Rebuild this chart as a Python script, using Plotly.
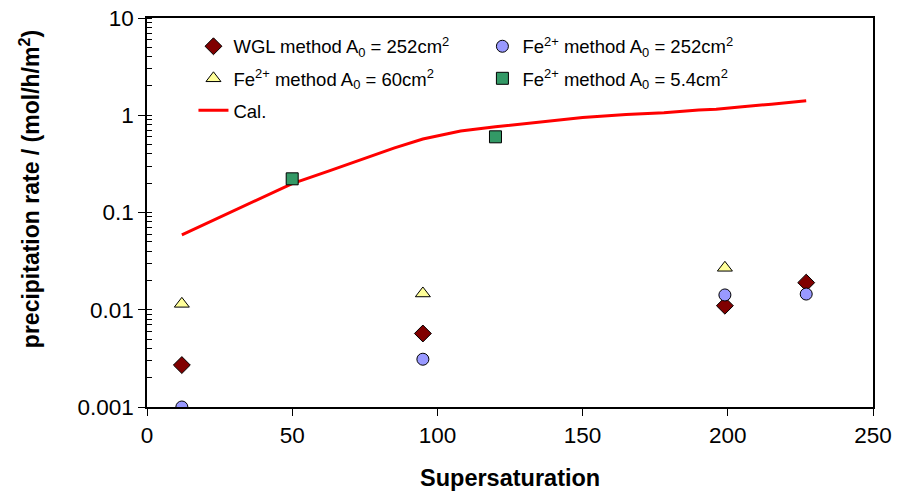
import plotly.graph_objects as go

# Measured precipitation rates (mol/h/m^2) versus supersaturation
wgl_x = [12, 95, 199, 227]
wgl_y = [0.0027, 0.0057, 0.011, 0.019]

fe252_x = [12, 95, 199, 227]
fe252_y = [0.001, 0.0031, 0.0142, 0.0145]

fe60_x = [12, 95, 199]
fe60_y = [0.0115, 0.0147, 0.027]

fe54_x = [50, 120]
fe54_y = [0.222, 0.60]

# Calculated curve
cal_x = [12, 30, 50, 63, 75, 85, 95, 100, 108, 120, 135, 150, 165, 178, 190, 196, 205, 210, 215, 227]
cal_y = [0.059, 0.104, 0.198, 0.27, 0.36, 0.46, 0.57, 0.61, 0.69, 0.76, 0.85, 0.95, 1.02, 1.06, 1.13, 1.15, 1.22, 1.27, 1.30, 1.41]

ytick_vals = [0.001, 0.01, 0.1, 1, 10]
ytick_text = ["0.001", "0.01", "0.1", "1", "10"]

FONT = "Liberation Sans, Arial, sans-serif"
edge = dict(color="black", width=1)

fig = go.Figure()

fig.add_trace(go.Scatter(
    x=wgl_x, y=wgl_y, mode="markers", name="WGL method A<sub>0</sub> = 252cm<sup>2</sup>",
    marker=dict(symbol="diamond", size=13, color="#800000", line=edge),
    legend="legend", legendgroup="a"))
fig.add_trace(go.Scatter(
    x=fe60_x, y=fe60_y, mode="markers", name="Fe<sup>2+</sup> method A<sub>0</sub> = 60cm<sup>2</sup>",
    marker=dict(symbol="triangle-up", size=13, color="#FFFF99", line=edge),
    legend="legend", legendgroup="b"))
fig.add_trace(go.Scatter(
    x=cal_x, y=cal_y, mode="lines", name="Cal.",
    line=dict(color="#FF0000", width=3),
    legend="legend", legendgroup="c"))
fig.add_trace(go.Scatter(
    x=fe252_x, y=fe252_y, mode="markers", name="Fe<sup>2+</sup> method A<sub>0</sub> = 252cm<sup>2</sup>",
    marker=dict(symbol="circle", size=12, color="#9999FF", line=edge),
    legend="legend2", legendgroup="d"))
fig.add_trace(go.Scatter(
    x=fe54_x, y=fe54_y, mode="markers", name="Fe<sup>2+</sup> method A<sub>0</sub> = 5.4cm<sup>2</sup>",
    marker=dict(symbol="square", size=12, color="#339966", line=edge),
    legend="legend2", legendgroup="e"))

legend_common = dict(
    font=dict(family=FONT, size=18.5, color="black"),
    bgcolor="rgba(0,0,0,0)", borderwidth=0,
    xanchor="left", yanchor="top", tracegroupgap=5,
    orientation="v")

fig.update_layout(
    width=898, height=493,
    margin=dict(l=147, r=25, t=18, b=86),
    paper_bgcolor="white", plot_bgcolor="white",
    font=dict(family=FONT, color="black"),
    showlegend=True,
    legend=dict(x=0.064, y=0.975, **legend_common),
    legend2=dict(x=0.462, y=0.975, **legend_common),
    xaxis=dict(
        range=[0, 250], dtick=50, tick0=0, automargin=False,
        showline=True, linecolor="black", linewidth=1.5, mirror=True,
        ticks="outside", ticklen=7, tickcolor="black",
        showgrid=False, zeroline=False,
        tickfont=dict(family=FONT, size=22.5, color="black"),
    ),
    yaxis=dict(
        type="log", range=[-3, 1], automargin=False,
        tickvals=ytick_vals, ticktext=ytick_text,
        showline=True, linecolor="black", linewidth=1.5, mirror=True,
        ticks="outside", ticklen=7, tickcolor="black",
        minor=dict(ticks="inside", ticklen=5, tickcolor="black", dtick="D1", showgrid=False),
        showgrid=False, zeroline=False,
        tickfont=dict(family=FONT, size=22.5, color="black"),
    ),
)

# Axis titles
fig.add_annotation(
    text="<b>Supersaturation</b>",
    xref="paper", yref="paper", x=0.5, y=0, xanchor="center", yanchor="middle",
    yshift=-71, showarrow=False,
    font=dict(family=FONT, size=23.5, color="black"))
fig.add_annotation(
    text="<b>precipitation rate / (mol/h/m<sup>2</sup>)</b>",
    xref="paper", yref="paper", x=0, y=0.56, xanchor="center", yanchor="middle",
    xshift=-117, textangle=-90, showarrow=False,
    font=dict(family=FONT, size=23, color="black"))

fig.write_html("out.html")
